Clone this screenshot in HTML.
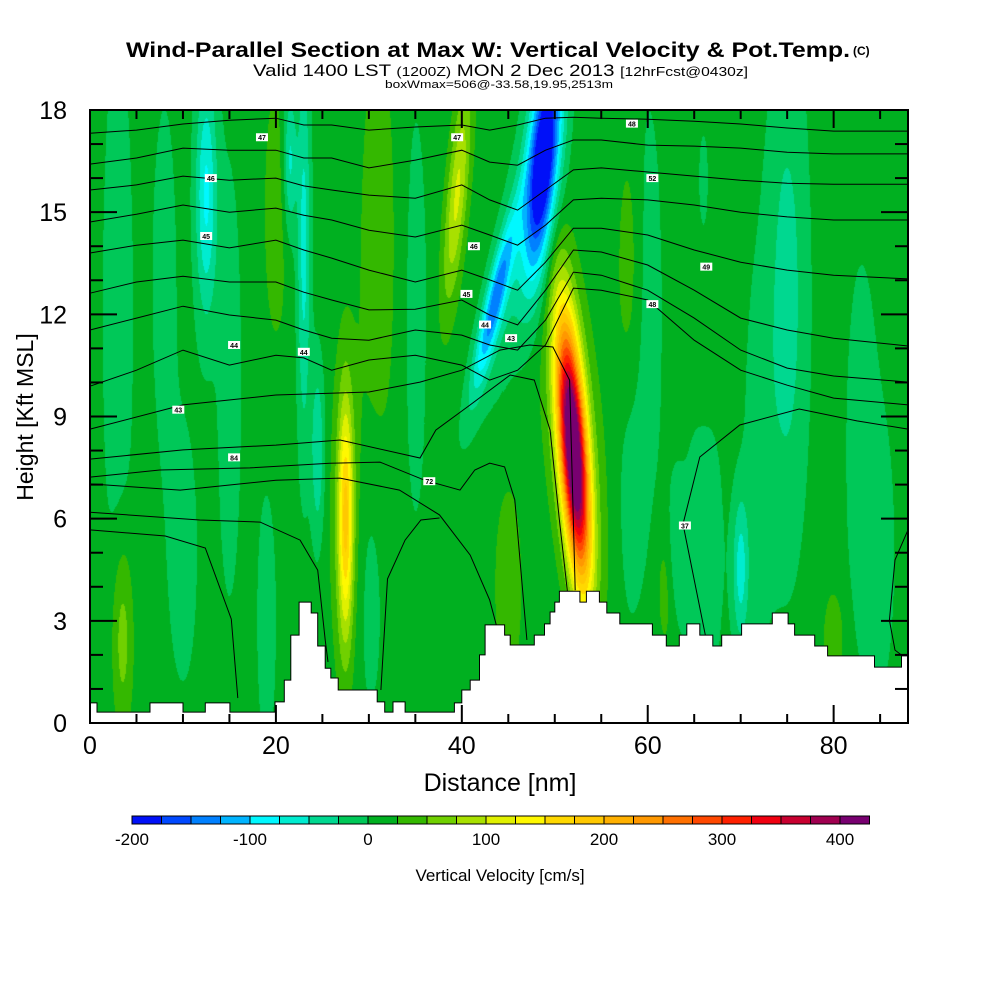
<!DOCTYPE html>
<html><head><meta charset="utf-8"><style>
html,body{margin:0;padding:0;background:#fff;}
#wrap{position:relative;width:1000px;height:1000px;overflow:hidden;font-family:"Liberation Sans",sans-serif;}
#field{position:absolute;left:90px;top:110px;}
#ov{position:absolute;left:0;top:0;}
</style></head><body>
<div id="wrap">
<canvas id="field" width="818" height="613"></canvas>
<svg id="ov" width="1000" height="1000" xmlns="http://www.w3.org/2000/svg">
<g font-family="Liberation Sans, sans-serif" fill="#000">
<text x="126" y="57" font-size="21" font-weight="bold" textLength="724" lengthAdjust="spacingAndGlyphs">Wind-Parallel Section at Max W: Vertical Velocity &amp; Pot.Temp.</text>
<text x="853" y="55" font-size="12" font-weight="bold">(C)</text>
<text x="253" y="76" font-size="17" textLength="495" lengthAdjust="spacingAndGlyphs">Valid 1400 LST <tspan font-size="13">(1200Z)</tspan> MON 2 Dec 2013 <tspan font-size="13">[12hrFcst@0430z]</tspan></text>
<text x="385" y="88" font-size="11" textLength="228" lengthAdjust="spacingAndGlyphs">boxWmax=506@-33.58,19.95,2513m</text>
<text x="500" y="791" font-size="25" text-anchor="middle">Distance [nm]</text>
<text transform="translate(33,417) rotate(-90)" font-size="23" text-anchor="middle">Height [Kft MSL]</text>
<text x="500" y="881" font-size="17" text-anchor="middle">Vertical Velocity [cm/s]</text>
</g>
<g id="contours" fill="none" stroke="#000" stroke-width="1"></g>
<g id="clabels"></g>
<path id="terrain" fill="#fff" stroke="#000" stroke-width="1"/>
<g id="axes"></g>
<g id="cbar"></g>
</svg>
</div>
<script>
// ---- data ----
const xDomain = [0, 88];
const yDomain = [0, 18];
const xTicks = [0, 20, 40, 60, 80];
const yTicks = [0, 3, 6, 9, 12, 15, 18];
const cbLevels = [-200,-175,-150,-125,-100,-75,-50,-25,0,25,50,75,100,125,150,175,200,225,250,275,300,325,350,375,400];
const cbColors = ["#0010f8","#0048ff","#0080ff","#00b4ff","#00f8ff","#00ecd0","#00d890","#00c858","#00b020","#34b800","#70d000","#a8e000","#e0f000","#fff800","#ffd800","#ffc800","#ffb000","#ff9800","#ff7000","#ff4800","#ff2000","#f00010","#c80030","#a00050","#780070"];
const cbLabels = [-200,-100,0,100,200,300,400];
const baseW = 10;
// features: centre distance (nm), height (kft), sigma x, sigma y, amplitude (cm/s), tilt (nm per kft)
const featX    = [52.0, 52.0, 48.8, 43.5, 46.0, 27.5, 27.5, 39.5, 12.5, 23.0, 24.5, 21.5, 70.0, 66.0, 63.0, 75.0, 83.0, 3.0, 10.0, 15.0, 30.0, 35.0, 60.0, 66.0, 75.0, 85.0, 19.0, 3.5, 20.0, 31.0, 45.0, 58.0, 66.0, 80.0, 62.0, 58.0, 72.0, 8.0];
const featY    = [8.0, 8.5, 16.5, 12.3, 14.0, 6.0, 6.0, 15.5, 15.5, 14.0, 8.0, 16.5, 4.5, 14.5, 5.0, 12.0, 8.0, 12.0, 5.0, 10.0, 4.0, 12.0, 12.0, 5.0, 13.0, 5.0, 3.0, 2.5, 15.0, 14.0, 4.0, 13.0, 13.0, 2.5, 4.0, 7.0, 8.0, 13.0];
const featSX   = [1.0, 2.0, 1.15, 0.75, 1.5, 0.55, 1.2, 0.8, 0.8, 0.5, 0.5, 0.5, 0.6, 0.6, 0.7, 1.5, 1.2, 1.2, 1.2, 1.0, 1.2, 1.0, 1.2, 1.5, 1.5, 1.2, 0.8, 0.8, 1.0, 1.5, 1.0, 1.0, 0.8, 0.8, 0.8, 1.0, 1.2, 1.0];
const featSY   = [2.6, 3.5, 2.4, 1.8, 3.0, 2.4, 3.5, 2.3, 2.5, 4.0, 1.8, 1.5, 1.5, 2.0, 1.5, 5.0, 4.0, 6.0, 3.0, 5.0, 3.0, 5.0, 5.0, 3.0, 5.0, 3.0, 3.0, 2.0, 3.0, 5.0, 2.0, 3.0, 2.0, 1.0, 1.5, 3.0, 4.0, 4.0];
const featAmp  = [440, 55, -240, -140, -35, 140, 40, 95, -90, -70, -60, -70, -70, -35, -35, -25, -25, -25, -22, -22, -22, -20, -22, -28, -22, -22, -22, 55, 30, 30, 40, 30, 35, 35, 30, -22, -22, -22];
const featTilt = [-0.25, -0.3, 0.3, 0.8, 0.6, 0, 0, 0.3, 0, 0, 0, 0, 0, 0, 0, 0, 0, 0, 0, 0, 0, 0, 0, 0, 0, 0, 0, 0, 0, 0, 0, 0, 0, 0, 0, 0, 0, 0];
// terrain steps: distance (nm) where each step starts, height (kft)
const terrX = [0,0.75,6.45,10.0,12.4,15.05,19.9,20.9,21.6,22.5,23.8,24.5,25.3,25.9,26.7,30.9,31.7,32.6,33.9,39.2,40.0,40.9,41.9,42.5,44.6,45.2,47.8,48.9,49.5,50.0,50.5,52.7,53.4,54.8,55.6,57.0,60.5,62.0,63.4,64.2,65.6,67.0,67.96,70.1,73.4,75.1,75.8,77.96,79.35,84.4,87.3];
const terrH = [0.59,0.32,0.59,0.32,0.59,0.32,0.62,1.26,2.58,3.55,3.23,2.26,1.61,1.32,0.97,0.62,0.32,0.62,0.32,0.59,0.97,1.26,2.00,2.88,2.58,2.29,2.58,2.91,3.26,3.55,3.87,3.55,3.87,3.55,3.23,2.91,2.58,2.26,2.58,2.91,2.58,2.26,2.58,2.91,3.23,2.91,2.58,2.26,1.97,1.64,1.97];
// isentropes spanning the section, heights (kft) at contourX
const contourX = [0,5,10,15,20,23,26,30,35,40,43,46,49,52,55,60,65,70,75,80,88];
const theta1 = [17.32,17.41,17.59,17.70,17.76,17.56,17.56,17.41,17.50,17.56,17.41,17.56,17.76,17.79,17.76,17.73,17.67,17.59,17.47,17.38,17.38];
const theta2 = [16.41,16.59,16.88,16.82,16.82,16.59,16.59,16.30,16.53,16.82,16.47,16.38,16.82,17.12,17.12,16.97,16.94,16.88,16.76,16.71,16.71];
const theta3 = [15.65,15.80,16.06,15.94,16.00,15.77,15.65,15.50,15.41,15.80,15.36,15.06,15.65,16.24,16.30,16.18,16.06,15.94,15.85,15.82,15.82];
const theta4 = [14.71,14.94,15.21,15.00,15.12,14.91,14.77,14.47,14.27,14.62,14.33,14.03,14.62,15.36,15.41,15.36,15.21,15.00,14.86,14.77,14.77];
const theta5 = [13.80,14.03,14.18,13.95,14.18,13.89,13.65,13.30,12.95,13.30,13.01,12.71,13.53,14.53,14.53,14.33,13.89,13.53,13.30,13.15,13.04];
const theta6 = [12.62,12.95,13.12,12.95,12.95,12.65,12.42,12.13,12.15,12.42,11.98,11.69,12.71,13.89,13.83,13.45,12.71,11.89,11.54,11.30,11.07];
const theta7 = [11.54,11.89,12.24,11.98,11.83,11.54,11.30,11.24,11.54,11.39,11.10,10.95,11.83,13.24,13.15,12.71,11.89,10.95,10.42,10.19,10.01];
const theta8 = [9.89,10.36,10.95,10.51,10.80,10.72,10.36,10.66,10.80,10.51,10.07,10.36,11.10,12.77,12.71,12.42,11.24,10.36,9.92,9.54,9.34];
// partial isentropes: distances and heights
const p1X = [66.3,63.8,65.6,69.9,76.3,82.5,88.0], p1H = [2.44,5.84,7.81,8.75,9.22,8.87,8.63];
const p2X = [0,10,20,30,35.5,40,44.1,47.3,49.8,51.6,52.2], p2H = [8.63,9.34,9.63,9.72,10.01,10.36,10.95,11.10,11.04,10.07,3.90];
const p3X = [0,10,20,26.9,35.5,37.2,40.9,45.2,47.8,49.5,50.5,51.4], p3H = [7.75,8.02,8.16,8.31,7.78,8.60,9.34,10.22,10.07,8.60,5.96,3.76];
const p4X = [0,7.5,17.2,25.8,31.2,36.0,39.8,41.4,43.0,44.6,45.7,47.0], p4H = [7.22,7.43,7.49,7.63,7.66,7.13,6.84,7.43,7.63,7.52,6.55,2.44];
const p5X = [0,9.7,20,26.9,33.3,37.6,40.9,43.0,43.8], p5H = [7.02,6.84,7.13,7.19,6.84,6.11,4.93,3.61,2.79];
const p6X = [31.3,32.0,33.9,35.6,37.6], p6H = [0.97,4.23,5.37,5.96,6.02];
const p7X = [0,11.8,18.3,22.6,24.5,25.3,25.6], p7H = [6.19,5.96,5.90,5.37,4.49,2.44,1.79];
const p8X = [0,8.1,12.4,15.2,15.9], p8H = [5.67,5.49,5.14,3.05,0.73];
const p9X = [88,86.6,86.0,86.6,88], p9H = [5.67,4.79,3.02,2.14,1.85];
// contour labels
const labX = [18.5,13.0,12.5,15.5,9.5,15.5,23.0,39.5,41.3,40.5,42.5,45.3,58.3,60.5,66.3,60.5,64.0,36.5];
const labH = [17.2,16.0,14.3,11.1,9.2,7.8,10.9,17.2,14.0,12.6,11.7,11.3,17.6,16.0,13.4,12.3,5.8,7.1];
const labT = ["47","46","45","44","43","84","44","47","46","45","44","43","48","52","49","48","37","72"];

// ---- scales ----
const PX0=90, PX1=908, PY0=723, PY1=110;
function sx(v){return PX0+(v-xDomain[0])/(xDomain[1]-xDomain[0])*(PX1-PX0);}
function sy(v){return PY0-(v-yDomain[0])/(yDomain[1]-yDomain[0])*(PY0-PY1);}
const NS="http://www.w3.org/2000/svg";
function mk(tag,attrs,parent){const e=document.createElementNS(NS,tag);for(const k in attrs)e.setAttribute(k,attrs[k]);parent.appendChild(e);return e;}

// ---- field ----
function hex(c){return [parseInt(c.substr(1,2),16),parseInt(c.substr(3,2),16),parseInt(c.substr(5,2),16)];}
const rgb = cbColors.map(hex);
(function(){
  const cv=document.getElementById('field'), ctx=cv.getContext('2d');
  const W=cv.width,H=cv.height, img=ctx.createImageData(W,H), d=img.data;
  for(let py=0;py<H;py++){
    const yk=yDomain[1]-(py+0.5)/H*(yDomain[1]-yDomain[0]);
    for(let px=0;px<W;px++){
      const xn=xDomain[0]+(px+0.5)/W*(xDomain[1]-xDomain[0]);
      let v=baseW;
      for(let i=0;i<featX.length;i++){
        const cx=featX[i]+featTilt[i]*(yk-featY[i]);
        const dx=(xn-cx)/featSX[i], dy=(yk-featY[i])/featSY[i];
        const r=dx*dx+dy*dy; if(r<12) v+=featAmp[i]*Math.exp(-0.5*r);
      }
      let k=Math.floor((v-cbLevels[0])/25); k=Math.max(0,Math.min(cbColors.length-1,k));
      const o=(py*W+px)*4, c=rgb[k];
      d[o]=c[0];d[o+1]=c[1];d[o+2]=c[2];d[o+3]=255;
    }
  }
  ctx.putImageData(img,0,0);
})();

// ---- contours ----
const cg=document.getElementById('contours');
const fullLines=[theta1,theta2,theta3,theta4,theta5,theta6,theta7,theta8];
fullLines.forEach((hs,j)=>{
  const p=mk('polyline',{points:contourX.map((x,i)=>sx(x).toFixed(1)+','+sy(hs[i]).toFixed(1)).join(' ')},cg);
  
  
});
const partX=[p1X,p2X,p3X,p4X,p5X,p6X,p7X,p8X,p9X], partH=[p1H,p2H,p3H,p4H,p5H,p6H,p7H,p8H,p9H];
partX.forEach((xs,j)=>{
  const p=mk('polyline',{points:xs.map((x,i)=>sx(x).toFixed(1)+','+sy(partH[j][i]).toFixed(1)).join(' ')},cg);
  
  
});
const lg=document.getElementById('clabels');
labX.forEach((x,i)=>{
  const g=mk('g',{},lg);
  
  
  mk('rect',{x:sx(x)-6,y:sy(labH[i])-4,width:12,height:8,fill:'#fff'},g);
  const t=mk('text',{x:sx(x),y:sy(labH[i])+3,'font-size':7,'font-weight':'bold','text-anchor':'middle','font-family':'Liberation Sans, sans-serif'},g);
  t.textContent=labT[i];
});

// ---- terrain ----
(function(){
  let d='M'+sx(xDomain[0])+','+sy(0);
  for(let i=0;i<terrX.length;i++){
    const x0=sx(terrX[i]), x1=sx(i+1<terrX.length?terrX[i+1]:xDomain[1]);
    d+=' L'+x0.toFixed(1)+','+sy(terrH[i]).toFixed(1)+' L'+x1.toFixed(1)+','+sy(terrH[i]).toFixed(1);
  }
  d+=' L'+sx(xDomain[1])+','+sy(0)+' Z';
  document.getElementById('terrain').setAttribute('d',d);
})();

// ---- axes ----
const ax=document.getElementById('axes');
for(let v=0;v<=yDomain[1];v++){
  const y=sy(v), L=(v%3===0)?27:13;
  const a=mk('line',{x1:PX0,y1:y,x2:PX0+L,y2:y,stroke:'#000','stroke-width':2},ax);
  
  
  const b=mk('line',{x1:PX1,y1:y,x2:PX1-L,y2:y,stroke:'#000','stroke-width':2},ax);
  
  
}
for(let v=5;v<xDomain[1];v+=5){
  const x=sx(v), L=(v%20===0)?18:9;
  const a=mk('line',{x1:x,y1:PY0,x2:x,y2:PY0-L,stroke:'#000','stroke-width':2},ax);
  
  
  const b=mk('line',{x1:x,y1:PY1,x2:x,y2:PY1+L,stroke:'#000','stroke-width':2},ax);
  
  
}
const fr=mk('rect',{x:PX0,y:PY1,width:PX1-PX0,height:PY0-PY1,fill:'none',stroke:'#000','stroke-width':2},ax);


yTicks.forEach(v=>{
  const t=mk('text',{x:67,y:sy(v)+9,'font-size':25,'text-anchor':'end','font-family':'Liberation Sans, sans-serif'},ax);
  
  
  t.textContent=v;
});
xTicks.forEach(v=>{
  const t=mk('text',{x:sx(v),y:754,'font-size':25,'text-anchor':'middle','font-family':'Liberation Sans, sans-serif'},ax);
  
  
  t.textContent=v;
});

// ---- colorbar ----
const cb=document.getElementById('cbar');
const CB0=132, CBW=29.5;
cbColors.forEach((c,i)=>{
  const r=mk('rect',{x:CB0+i*CBW,y:816,width:CBW,height:8,fill:c,stroke:'#000','stroke-width':1},cb);
  
  
});
cbLabels.forEach(v=>{
  const t=mk('text',{x:CB0+(v-cbLevels[0])/25*CBW,y:845,'font-size':17,'text-anchor':'middle','font-family':'Liberation Sans, sans-serif'},cb);
  
  
  t.textContent=v;
});
</script>
</body></html>
